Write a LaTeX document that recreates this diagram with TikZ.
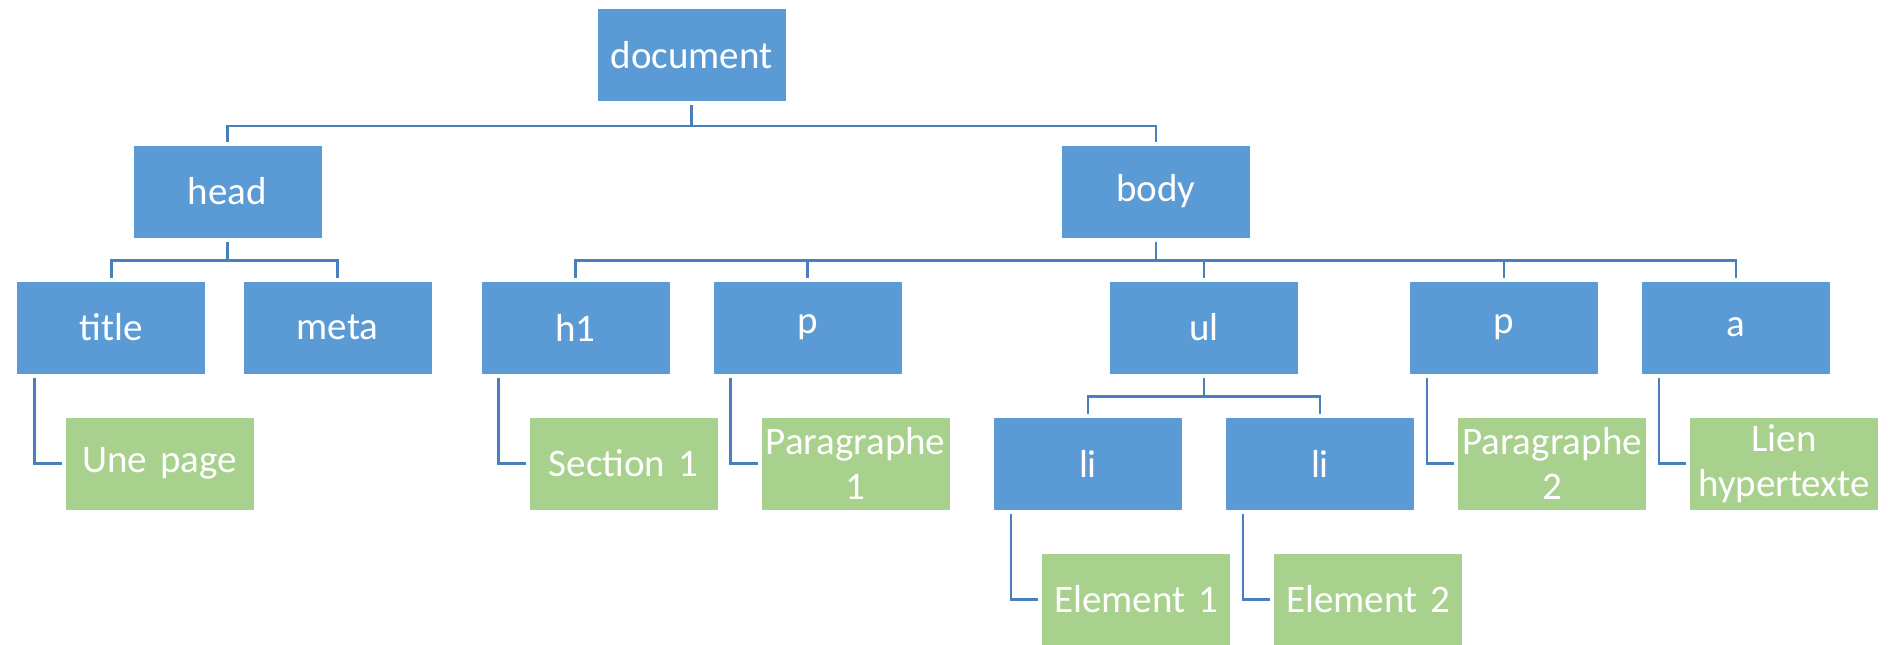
\documentclass[tikz,border=0pt]{standalone}
\usepackage{fontspec}
\setmainfont[WordSpace=0.7]{Carlito}
\definecolor{boxblue}{HTML}{5B9BD5}
\definecolor{boxgreen}{HTML}{A9D18E}
\definecolor{linkblue}{HTML}{4A7FBE}
\begin{document}
\begin{tikzpicture}[x=0.5pt,y=-0.5pt,
  base/.style={rectangle, draw=white, line width=0.5pt, minimum width=94.5pt, minimum height=46.5pt,
    inner sep=0pt, text=white, align=center, text width=94pt,
    font=\fontsize{19.5}{22.5}\selectfont},
  tag/.style={base, fill=boxblue},
  leaf/.style={base, fill=boxgreen},
  link/.style={draw=linkblue, line width=1.2pt}]
\useasboundingbox (0,0) rectangle (1896,644);
% level 0
\node[tag] (doc) at (691.5,55) {document};
% level 1
\node[tag] (head) at (227.5,191.5) {head};
\node[tag] (body) at (1156,191.5) {body};
% level 2
\node[tag] (title) at (111.4,327.5) {title};
\node[tag] (meta) at (337.5,327.5) {meta};
\node[tag] (h1) at (575.5,327.5) {h1};
\node[tag] (pa) at (807.5,327.5) {p};
\node[tag] (ul) at (1204,327.5) {ul};
\node[tag] (pb) at (1504,327.5) {p};
\node[tag] (a) at (1736,327.5) {a};
% level 3
\node[leaf] (unepage) at (159.5,463.5) {Une page};
\node[leaf] (sec) at (623.5,463.5) {Section 1};
\node[leaf] (para1) at (855.5,463.5) {Paragraphe\\1};
\node[tag] (lia) at (1088,463.5) {li};
\node[tag] (lib) at (1320,463.5) {li};
\node[leaf] (para2) at (1552,463.5) {Paragraphe\\2};
\node[leaf] (lien) at (1784,463.5) {Lien\\hypertexte};
% level 4
\node[leaf] (el1) at (1136,599.5) {Element 1};
\node[leaf] (el2) at (1368,599.5) {Element 2};
% tree connectors
\foreach \c in {head,body}
  \draw[link] ([yshift=-1.5pt]doc.south) -- ++(0,21) -| ([yshift=1.5pt]\c.north);
\foreach \c in {title,meta}
  \draw[link] ([yshift=-1.5pt]head.south) -- ++(0,19) -| ([yshift=1.5pt]\c.north);
\foreach \c in {h1,pa,ul,pb,a}
  \draw[link] ([yshift=-1.5pt]body.south) -- ++(0,19) -| ([yshift=1.5pt]\c.north);
\foreach \c in {lia,lib}
  \draw[link] ([yshift=-1.5pt]ul.south) -- ++(0,19) -| ([yshift=1.5pt]\c.north);
% leaf connectors
\draw[link] ([xshift=9pt,yshift=-1.5pt]title.south west) |- ([xshift=-1.5pt]unepage.west);
\draw[link] ([xshift=9pt,yshift=-1.5pt]h1.south west) |- ([xshift=-1.5pt]sec.west);
\draw[link] ([xshift=9pt,yshift=-1.5pt]pa.south west) |- ([xshift=-1.5pt]para1.west);
\draw[link] ([xshift=9pt,yshift=-1.5pt]pb.south west) |- ([xshift=-1.5pt]para2.west);
\draw[link] ([xshift=9pt,yshift=-1.5pt]a.south west) |- ([xshift=-1.5pt]lien.west);
\draw[link] ([xshift=9pt,yshift=-1.5pt]lia.south west) |- ([xshift=-1.5pt]el1.west);
\draw[link] ([xshift=9pt,yshift=-1.5pt]lib.south west) |- ([xshift=-1.5pt]el2.west);
\end{tikzpicture}
\end{document}
